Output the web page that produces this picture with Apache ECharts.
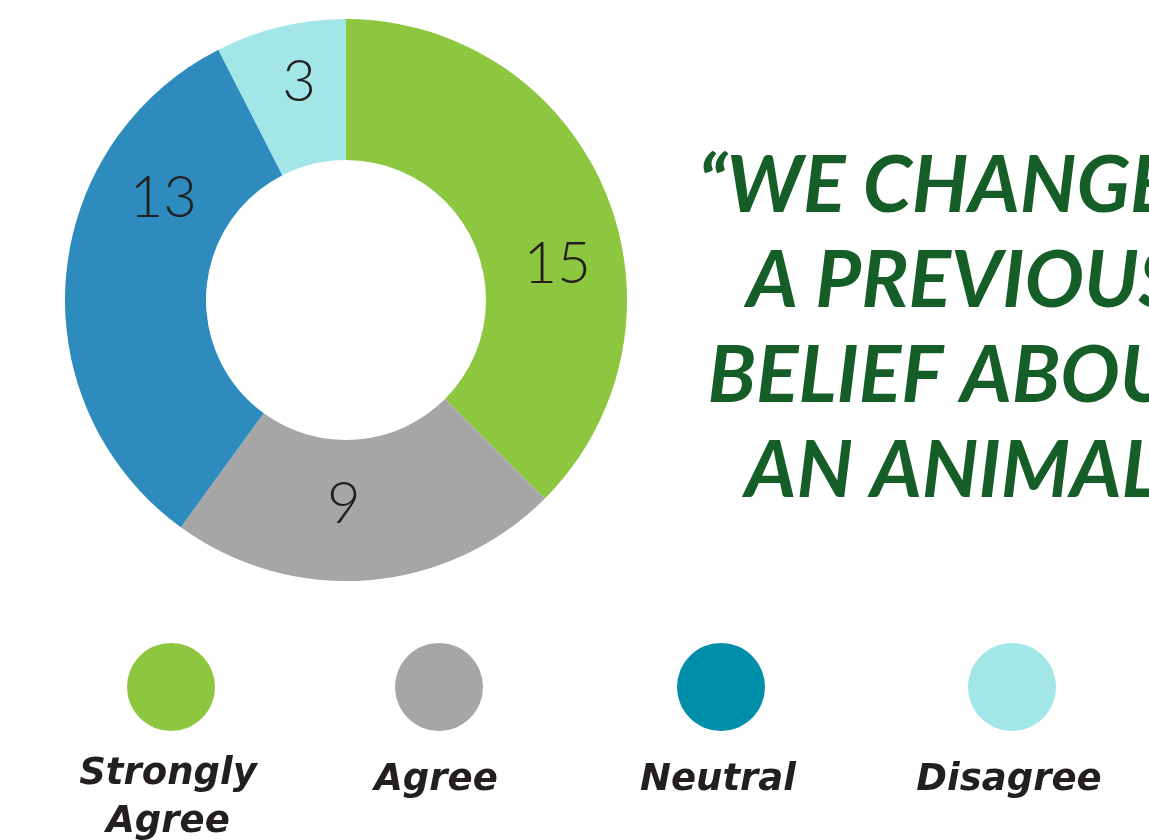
<!DOCTYPE html>
<html>
<head>
<meta charset="utf-8">
<style>
  html, body { margin: 0; padding: 0; background: #fff; }
  #chart { width: 1149px; height: 840px; }
</style>
<script src="https://cdn.jsdelivr.net/npm/echarts@6/dist/echarts.min.js"></script>
</head>
<body>
<div id="chart"></div>
<script>
  // answers, in the order the slices run clockwise from the top
  const categories = ['Strongly Agree', 'Agree', 'Neutral', 'Disagree'];
  const counts = [15, 9, 13, 3];
  const sliceColors = ['#8dc63f', '#a6a6a6', '#2e8bbe', '#a3e6e8'];
  // the legend dot for Neutral is a darker teal than its slice
  const legendColors = ['#8dc63f', '#a6a6a6', '#008fa8', '#a3e6e8'];
  const legendLabels = ['Strongly\nAgree', 'Agree', 'Neutral', 'Disagree'];
  const titleLines = ['\u201cWE CHANGED', 'A PREVIOUS', 'BELIEF ABOUT', 'AN ANIMAL\u201d'];

  // labels in the source are nudged away from the mid-angle
  const labelShift = [[14, 46], [-19, -9], [30, -85], [3, -10]];

  const legendX = [171, 439, 721, 1012];

  const chart = echarts.init(document.getElementById('chart'));

  const legendGraphics = [];
  categories.forEach((name, i) => {
    legendGraphics.push({
      type: 'circle',
      shape: { cx: legendX[i], cy: 687, r: 44 },
      style: { fill: legendColors[i] },
      silent: true,
    });
    legendGraphics.push({
      type: 'text',
      x: legendX[i] - 3,
      y: legendLabels[i].indexOf('\n') >= 0 ? 798 : 780,
      style: {
        text: legendLabels[i],
        fill: '#231f20',
        font: 'italic bold 37px "DejaVu Sans"',
        textAlign: 'center',
        textVerticalAlign: 'middle',
        lineHeight: 48,
      },
      silent: true,
    });
  });

  chart.setOption({
    animation: false,
    title: {
      text: titleLines.join('\n'),
      left: 958,
      top: 134,
      textAlign: 'center',
      textStyle: {
        color: '#165e28',
        fontFamily: 'Lato',
        fontStyle: 'italic',
        fontWeight: 'bold',
        fontSize: 79,
        lineHeight: 95,
      },
    },
    graphic: legendGraphics,
    series: [
      {
        type: 'pie',
        center: [346, 300],
        radius: [140, 281],
        startAngle: 90,
        clockwise: true,
        avoidLabelOverlap: false,
        silent: true,
        emphasis: { disabled: true },
        label: {
          show: true,
          position: 'inside',
          formatter: '{c}',
          color: '#231f20',
          fontFamily: 'Lato',
          fontWeight: 300,
          fontSize: 58,
        },
        labelLine: { show: false },
        labelLayout: (params) => ({
          dx: labelShift[params.dataIndex][0],
          dy: labelShift[params.dataIndex][1],
        }),
        data: categories.map((name, i) => ({
          name,
          value: counts[i],
          itemStyle: { color: sliceColors[i] },
        })),
      },
    ],
  });
</script>
</body>
</html>
